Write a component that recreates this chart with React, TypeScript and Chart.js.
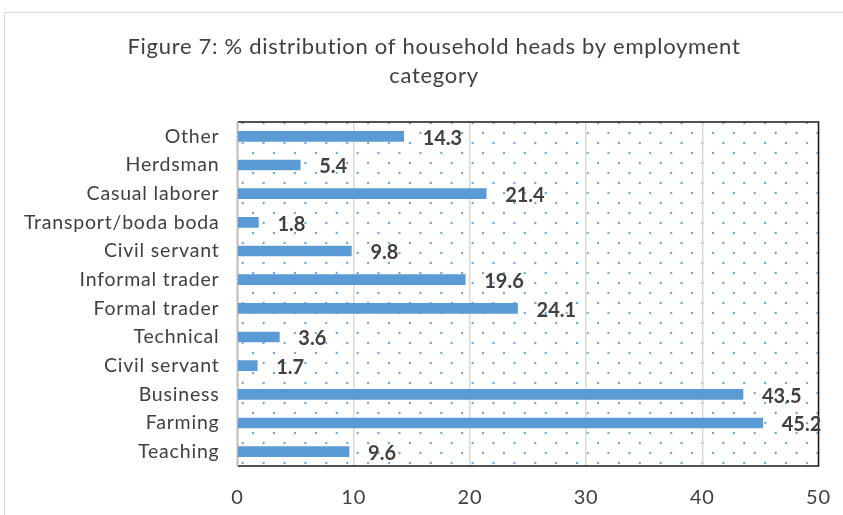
import React, { useEffect, useRef } from "react";
import { Chart, registerables } from "chart.js";

Chart.register(...registerables);

const categories = [
  "Other",
  "Herdsman",
  "Casual laborer",
  "Transport/boda boda",
  "Civil servant",
  "Informal trader",
  "Formal trader",
  "Technical",
  "Civil servant",
  "Business",
  "Farming",
  "Teaching",
];
const values = [14.3, 5.4, 21.4, 1.8, 9.8, 19.6, 24.1, 3.6, 1.7, 43.5, 45.2, 9.6];
const xTickValues = [0, 10, 20, 30, 40, 50];
const titleLines = [
  "Figure 7: % distribution of household heads by employment",
  "category",
];

const FONT = "Lato, 'Open Sans', sans-serif";
const TEXT = "#404040";
const BAR = "#5B9BD5";

const CANVAS_W = 858;
const CANVAS_H = 502;

const dotsPlugin = {
  id: "dots",
  beforeDraw(chart: any) {
    const { ctx, chartArea } = chart;
    const { left, right, top, bottom } = chartArea;
    // spacing for axis text (persists into the scale drawing)
    (ctx as any).letterSpacing = "0.8px";
    ctx.save();
    ctx.beginPath();
    ctx.rect(left, top, right - left, bottom - top);
    ctx.clip();
    ctx.fillStyle = "rgba(91,155,213,0.85)";
    const dx = 20.9;
    const dy = 10;
    const x0 = left + 5.2;
    const y0 = top + 1;
    let row = 0;
    for (let y = y0; y < bottom; y += dy, row++) {
      const off = row % 2 === 1 ? dx / 2 : 0;
      for (let x = x0 + off - dx; x < right; x += dx) {
        ctx.beginPath();
        ctx.arc(x, y, 1.2, 0, Math.PI * 2);
        ctx.fill();
      }
    }
    ctx.restore();
  },
};

const framePlugin = {
  id: "frame",
  beforeDatasetsDraw(chart: any) {
    const { ctx, chartArea } = chart;
    const { left, right, top, bottom } = chartArea;
    ctx.save();
    ctx.strokeStyle = "#1a1a1a";
    ctx.lineWidth = 1.5;
    ctx.beginPath();
    ctx.moveTo(left, top);
    ctx.lineTo(right, top);
    ctx.lineTo(right, bottom);
    ctx.lineTo(left, bottom);
    ctx.stroke();
    ctx.strokeStyle = "#BFBFBF";
    ctx.lineWidth = 2;
    ctx.beginPath();
    ctx.moveTo(left, top);
    ctx.lineTo(left, bottom);
    ctx.stroke();
    ctx.restore();
  },
};

const titlePlugin = {
  id: "customTitle",
  afterDraw(chart: any) {
    const { ctx } = chart;
    ctx.save();
    (ctx as any).letterSpacing = "0.7px";
    ctx.fillStyle = TEXT;
    ctx.font = `22px ${FONT}`;
    ctx.textAlign = "center";
    ctx.textBaseline = "middle";
    const cx = chart.width / 2;
    titleLines.forEach((line, i) => {
      ctx.fillText(line, cx, 34 + i * 29);
    });
    ctx.restore();
  },
};

const labelsPlugin = {
  id: "barLabels",
  afterDatasetsDraw(chart: any) {
    const { ctx } = chart;
    const meta = chart.getDatasetMeta(0);
    ctx.save();
    (ctx as any).letterSpacing = "0px";
    ctx.fillStyle = TEXT;
    ctx.font = `bold 20px ${FONT}`;
    ctx.textAlign = "left";
    ctx.textBaseline = "middle";
    meta.data.forEach((el: any, i: number) => {
      ctx.fillText(values[i].toFixed(1), el.x + 19, el.y + 2);
    });
    ctx.restore();
  },
};

export default function App() {
  const ref = useRef<HTMLCanvasElement | null>(null);

  useEffect(() => {
    if (!ref.current) return;
    const chart = new Chart(ref.current, {
      type: "bar",
      data: {
        labels: categories,
        datasets: [
          {
            data: values,
            backgroundColor: BAR,
            borderWidth: 0,
            barThickness: 10,
          },
        ],
      },
      options: {
        indexAxis: "y",
        responsive: false,
        animation: false,
        devicePixelRatio: 1,
        layout: { padding: { top: 109, right: 44.5, bottom: 0, left: 0 } },
        plugins: {
          legend: { display: false },
          title: { display: false },
          tooltip: { enabled: false },
        },
        scales: {
          x: {
            type: "linear",
            min: 0,
            max: 50,
            afterBuildTicks(scale: any) {
              scale.ticks = xTickValues.map((v) => ({ value: v }));
            },
            afterFit(scale: any) {
              scale.height = 49;
            },
            grid: {
              color: "#D9D9D9",
              lineWidth: 1.5,
              drawTicks: false,
            },
            border: { display: false },
            ticks: {
              color: TEXT,
              font: { family: FONT, size: 20 },
              padding: 20,
            },
          },
          y: {
            type: "category",
            afterFit(scale: any) {
              scale.width = 232.5;
            },
            grid: { display: false, drawTicks: false },
            border: { display: false },
            ticks: {
              color: TEXT,
              font: { family: FONT, size: 19.5 },
              padding: 18,
              autoSkip: false,
            },
          },
        },
      },
      plugins: [dotsPlugin, framePlugin, titlePlugin, labelsPlugin],
    });
    return () => chart.destroy();
  }, []);

  return (
    <div
      style={{
        position: "fixed",
        left: 0,
        top: 0,
        width: 843,
        height: 515,
        overflow: "hidden",
        background: "#fff",
      }}
    >
      <div
        style={{
          position: "absolute",
          left: 4,
          top: 12,
          width: 870,
          height: 520,
          border: "1px solid #D9D9D9",
          boxSizing: "border-box",
        }}
      >
        <canvas
          ref={ref}
          width={CANVAS_W}
          height={CANVAS_H}
          style={{ display: "block", width: CANVAS_W, height: CANVAS_H }}
        />
      </div>
    </div>
  );
}
